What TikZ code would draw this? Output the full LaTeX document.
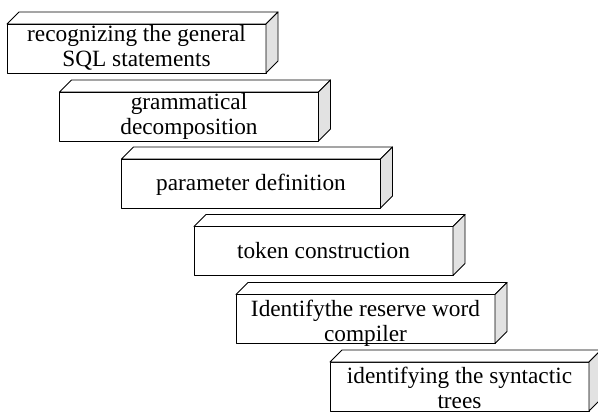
\documentclass[tikz,border=0pt]{standalone}
\usepackage{fontspec}
\setmainfont{Liberation Serif}
\definecolor{sidegray}{HTML}{E2E2E2}
\tikzset{
  slab/.style={draw=black, line width=0.9pt, fill=white, line join=round,
    minimum width=259pt, minimum height=49pt, inner sep=0pt, outer sep=0pt},
  slabface/.style={draw=black, line width=0.9pt, line join=round},
  slabtext/.style={font=\fontsize{23.3}{25}\selectfont, align=center,
    inner sep=0pt, anchor=base},
}
% one 3-D slab: front node plus its top and right faces
\newcommand\stepslab[3]{%
  \node[slab] (#1) at (#2,#3) {};
  \draw[slabface, fill=white] (#1.north west) -- ++(12,-12)
    -- ([shift={(12,-12)}]#1.north east) -- (#1.north east) -- cycle;
  \draw[slabface, fill=sidegray] (#1.north east) -- ++(12,-12)
    -- ([shift={(12,-12)}]#1.south east) -- (#1.south east) -- cycle;
}
\begin{document}
\begin{tikzpicture}[x=1pt, y=-1pt]
  \useasboundingbox (0,0) rectangle (598,412);

  \stepslab{b1}{136.5}{48.5}
  \stepslab{b2}{189}{116.5}
  \stepslab{b3}{251}{183.5}
  \stepslab{b4}{323.5}{251}
  \stepslab{b5}{365.5}{319}
  \stepslab{b6}{459.5}{386.5}

  % the base anchor sits on the last line of each label
  \node[slabtext] (t1) at (136.5,67) {recognizing the general\\SQL statements};
  \node[slabtext] (t2) at (189,135) {grammatical\\decomposition};
  \node[slabtext] (t3) at (251,190) {parameter definition};
  \node[slabtext] (t4) at (323.5,258) {token construction};
  \node[slabtext] (t5) at (365.5,341) {Identifythe reserve word\\compiler};
  \node[slabtext] (t6) at (459.5,408) {identifying the syntactic\\trees};
\end{tikzpicture}
\end{document}
